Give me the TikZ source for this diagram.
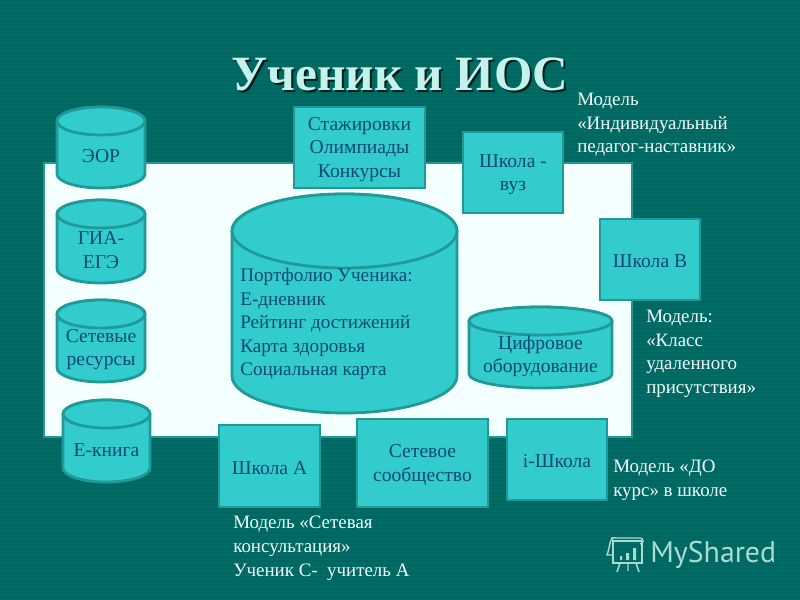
\documentclass[tikz,border=0pt]{standalone}
\usepackage{fontspec}
\setmainfont{Liberation Serif}
\newfontfamily\logofont{PT Sans}
\definecolor{bgc}{HTML}{006C65}
\definecolor{bgd}{HTML}{006660}
\definecolor{fillc}{HTML}{33CCCC}
\definecolor{edgec}{HTML}{1F9A98}
\definecolor{panelc}{HTML}{F4FFFF}
\definecolor{inkc}{HTML}{0C4A72}
\definecolor{notec}{HTML}{F4FFFF}
\definecolor{titlec}{HTML}{C6F2EC}
\definecolor{logoc}{HTML}{A8DCD2}
\tikzset{
  x=0.75pt,y=-0.75pt,
  shapeedge/.style={draw=edgec,line width=2.1pt,fill=fillc},
  boxlabel/.style={text=inkc,align=center,font=\fontsize{14.7}{17.7}\selectfont,inner sep=0pt},
  notelabel/.style={text=notec,align=left,anchor=north west,font=\fontsize{14.2}{17.7}\selectfont,inner sep=0pt},
  logoline/.style={draw=logoc,line width=1.1pt},
}
% name, x1, y1, x2, y2, ry, label
\newcommand{\cylshape}[7]{%
  \pgfmathsetmacro{\cxm}{(#2+#4)/2}
  \pgfmathsetmacro{\crx}{(#4-#2)/2}
  \pgfmathsetmacro{\ctop}{#3+#6}
  \pgfmathsetmacro{\cbot}{#5-#6}
  \path[shapeedge] (#2,\ctop) -- (#2,\cbot) arc[start angle=180,end angle=360,x radius=\crx*0.75pt,y radius=#6*0.75pt]
     -- (#4,\ctop) arc[start angle=0,end angle=180,x radius=\crx*0.75pt,y radius=#6*0.75pt] -- cycle;
  \path[shapeedge] (\cxm,\ctop) ellipse[x radius=\crx*0.75pt,y radius=#6*0.75pt];
  \node[boxlabel] (#1) at (\cxm,{(#3+#5)/2+#6*0.55+1}) {#7};
}
\newcommand{\boxshape}[6]{%
  \path[shapeedge] (#2,#3) rectangle (#4,#5);
  \node[boxlabel] (#1) at ({(#2+#4)/2},{(#3+#5)/2+2}) {#6};
}
\begin{document}
\begin{tikzpicture}
\useasboundingbox (0,0) rectangle (800,600);
\fill[bgc] (0,0) rectangle (800,600);
\foreach \i in {0,4,...,596} {\fill[bgd] (0,\i) rectangle (800,\i+1.6);}
% panel
\path[draw=edgec,line width=2.1pt,fill=panelc] (44,163) rectangle (632,437);
% title
\node[text=black!70!bgc,inner sep=0pt,font=\fontsize{37}{44}\selectfont\bfseries] (titleshadow) at (402,76) {Ученик и ИОС};
\node[text=titlec,inner sep=0pt,font=\fontsize{37}{44}\selectfont\bfseries] (title) at (400,74) {Ученик и ИОС};
% cylinders
\cylshape{eor}{57}{107}{145}{188}{14}{ЭОР}
\cylshape{gia}{57}{200}{145}{283}{14}{ГИА-\\ЕГЭ}
\cylshape{net}{57}{300}{145}{382}{14}{Сетевые\\ресурсы}
\cylshape{book}{63}{400}{150}{482}{14}{Е-книга}
\cylshape{digital}{469}{307}{612}{388}{14}{Цифровое\\оборудование}
\cylshape{portfolio}{232}{194}{457}{413}{37}{}
\node[boxlabel,align=left,anchor=north west,font=\fontsize{14.4}{17.7}\selectfont] (portfoliotext) at (240,268) {Портфолио Ученика:\\Е-дневник\\Рейтинг достижений\\Карта здоровья\\Социальная карта};
% boxes
\boxshape{stage}{294}{107}{425}{188}{Стажировки\\Олимпиады\\Конкурсы}
\boxshape{vuz}{463}{132}{563}{213}{Школа -\\вуз}
\boxshape{schoolb}{600}{219}{700}{300}{Школа В}
\boxshape{schoola}{219}{425}{320}{507}{Школа А}
\boxshape{community}{357}{419}{488}{507}{Сетевое\\сообщество}
\boxshape{ischool}{507}{419}{607}{500}{i-Школа}
% notes
\node[notelabel] (note1) at (577,93) {Модель\\«Индивидуальный\\педагог-наставник»};
\node[notelabel] (note2) at (646,310) {Модель:\\«Класс\\удаленного\\присутствия»};
\node[notelabel] (note3) at (613,460) {Модель «ДО\\курс» в школе};
\node[notelabel] (note4) at (233,516) {Модель «Сетевая\\консультация»\\Ученик С-\ \ учитель А};
% logo
\node[text=logoc,inner sep=0pt,anchor=west,font=\logofont\fontsize{22.4}{26}\selectfont] (logo) at (650,555) {MyShared};
\draw[logoline] (613,541) rectangle (642,563);
\draw[logoline] (613,541) .. controls (610,537) and (612,538) .. (616,538) -- (640,538) .. controls (644,538) and (644,544) .. (640,544);
\draw[logoline] (611,540) .. controls (609,546) and (609,550) .. (607,555) -- (613,555);
\fill[logoc] (620,556) rectangle (622,560) (626,553) rectangle (629,560) (633,548) rectangle (636,560);
\draw[logoline] (620,563) -- (617,572) (628,563) -- (628,571) (636,563) -- (639,572);
\end{tikzpicture}
\end{document}
